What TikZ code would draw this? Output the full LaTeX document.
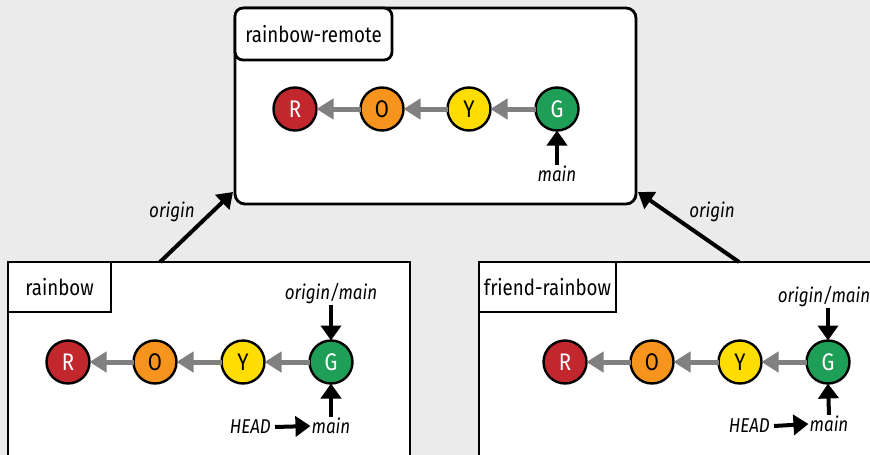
\documentclass[tikz,border=0pt]{standalone}
\usepackage{fontspec}
\setmainfont[FakeStretch=0.85]{Fira Sans}
\usetikzlibrary{arrows.meta}
\definecolor{bg}{HTML}{EBEBEB}
\definecolor{cred}{HTML}{C1272D}
\definecolor{corange}{HTML}{F7941D}
\definecolor{cyellow}{HTML}{FFDD00}
\definecolor{cgreen}{HTML}{1E9E57}
\definecolor{cgray}{HTML}{808080}
\tikzset{
  boxline/.style={draw=black, line width=2.8pt, fill=white},
  lbl/.style={draw=black, line width=2.8pt, fill=white, outer sep=0pt, inner sep=0pt, font=\fontsize{22}{22}\selectfont},
  commit/.style={circle, draw=black, line width=2.4pt, minimum size=43pt, inner sep=0pt, outer sep=0pt, font=\fontsize{24}{24}\selectfont},
  refname/.style={inner sep=1pt, font=\fontsize{20}{20}\selectfont\itshape},
  garrow/.style={draw=cgray, line width=5pt, -{Triangle[length=17pt,width=20pt]}},
  barrow/.style={draw=black, line width=4pt, -{Triangle[length=15pt,width=20pt]}},
}
\begin{document}
\begin{tikzpicture}[x=1pt,y=-1pt]
\clip (0,0) rectangle (870,455);
\fill[bg] (0,0) rectangle (870,455);
% top repository
\draw[boxline, rounded corners=10pt] (235,8) rectangle (636,204);
\node[lbl, rounded corners=8pt, anchor=north west, minimum width=157pt, minimum height=52pt] (tl) at (235,8) {rainbow-remote};
\node[commit, fill=cred, text=white] (r0) at (295,109) {R};
\node[commit, fill=corange] (o0) at (382,109) {O};
\node[commit, fill=cyellow] (y0) at (469,109) {Y};
\node[commit, fill=cgreen, text=white] (g0) at (557,109) {G};
\draw[garrow] (o0) -- (r0);
\draw[garrow] (y0) -- (o0);
\draw[garrow] (g0) -- (y0);
\node[refname] (m0) at (557,174) {main};
\draw[barrow] (m0.north) -- (g0.south);
% left repository
\draw[boxline] (8,262) rectangle (410,520);
\node[lbl, anchor=north west, minimum width=103pt, minimum height=50pt] (ll) at (8,262) {rainbow};
\node[commit, fill=cred, text=white] (r1) at (68,362) {R};
\node[commit, fill=corange] (o1) at (155,362) {O};
\node[commit, fill=cyellow] (y1) at (243,362) {Y};
\node[commit, fill=cgreen, text=white] (g1) at (331,362) {G};
\draw[garrow] (o1) -- (r1);
\draw[garrow] (y1) -- (o1);
\draw[garrow] (g1) -- (y1);
\node[refname] (om1) at (331,294) {origin/main};
\draw[barrow] (om1.south) -- (g1.north);
\node[refname] (m1) at (331,426) {main};
\draw[barrow] (m1.north) -- (g1.south);
\node[refname, anchor=east] (h1) at (272,427) {HEAD};
\coordinate (h1s) at ([xshift=3pt]h1.east);
\draw[barrow] (h1s) -- (m1.west);
% right repository
\draw[boxline] (479,262) rectangle (900,520);
\node[lbl, anchor=north west, minimum width=137pt, minimum height=50pt] (rl) at (479,262) {friend-rainbow};
\node[commit, fill=cred, text=white] (r2) at (565,362) {R};
\node[commit, fill=corange] (o2) at (652,362) {O};
\node[commit, fill=cyellow] (y2) at (740,362) {Y};
\node[commit, fill=cgreen, text=white] (g2) at (828,362) {G};
\draw[garrow] (o2) -- (r2);
\draw[garrow] (y2) -- (o2);
\draw[garrow] (g2) -- (y2);
\node[refname] (om2) at (824,297) {origin/main};
\draw[barrow] (om2.south -| g2.north) -- (g2.north);
\node[refname] (m2) at (829,424) {main};
\draw[barrow] (m2.north) -- (g2.south);
\node[refname, anchor=east] (h2) at (771,426) {HEAD};
\coordinate (h2s) at ([xshift=3pt]h2.east);
\draw[barrow] (h2s) -- (m2.west);
% origin connectors
\coordinate (lo) at (160,262);
\coordinate (lt) at (233,192);
\coordinate (ro) at (739,262);
\coordinate (rt) at (638,192);
\draw[barrow] (lo) -- (lt);
\draw[barrow] (ro) -- (rt);
\node[refname] (ol) at (172,212) {origin};
\node[refname] (or) at (712,212) {origin};
\end{tikzpicture}
\end{document}
